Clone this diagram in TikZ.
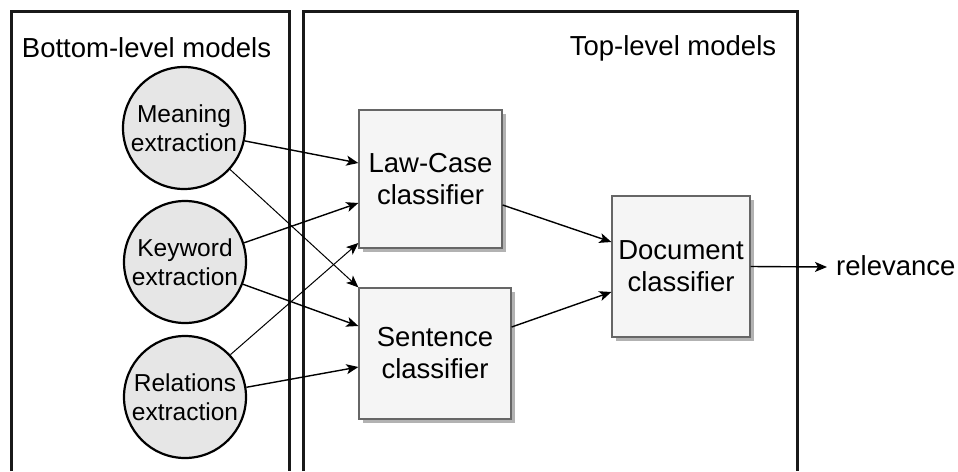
\documentclass[tikz,border=0pt]{standalone}
\usepackage{fontspec}
\setmainfont{Liberation Sans}
\usetikzlibrary{arrows.meta,shadows,calc}
\definecolor{circfill}{HTML}{E6E6E6}
\definecolor{boxfill}{HTML}{F5F5F5}
\definecolor{boxline}{HTML}{666666}
\begin{document}
\begin{tikzpicture}[x=1pt,y=-1pt,
  frame/.style={line width=3pt, draw=black!90},
  model/.style={circle, draw=black, line width=2.2pt, fill=circfill,
    minimum size=122pt, inner sep=0pt, align=center,
    font=\fontsize{24.5}{28.5}\selectfont},
  clf/.style={rectangle, draw=boxline, line width=1.3pt, fill=boxfill,
    inner sep=0pt, align=center, font=\fontsize{27.5}{32}\selectfont,
    drop shadow={shadow xshift=3.5pt, shadow yshift=-3.5pt, fill=black!30, opacity=1}},
  heading/.style={font=\fontsize{27.5}{32}\selectfont, inner sep=0pt},
  link/.style={line width=1.4pt, -{Stealth[length=12pt,width=10pt,inset=3pt]}},
  thin link/.style={link, line width=1pt}
]
\useasboundingbox (0,0) rectangle (958,471);

% open-bottomed group frames
\draw[frame] (11,471) -- (11,11) -- (289,11) -- (289,471);
\draw[frame] (303,471) -- (303,11) -- (797,11) -- (797,471);

\node[heading] (bot) at (146.5,48) {Bottom-level models};
\node[heading] (top) at (673,48) {Top-level models};

% bottom-level extractors
\node[model] (mean) at (184,128) {Meaning\\extraction};
\node[model] (key) at (185,262) {Keyword\\extraction};
\node[model] (rel) at (185,397) {Relations\\extraction};

% top-level classifiers
\node[clf, minimum width=143pt, minimum height=138pt] (lc) at (430.5,179) {Law-Case\\classifier};
\node[clf, minimum width=152pt, minimum height=131pt] (sc) at (435,353.5) {Sentence\\classifier};
\node[clf, minimum width=138pt, minimum height=141pt] (doc) at (681,266.5) {Document\\classifier};

\node[heading, anchor=west] (out) at (836,266) {relevance};

% connections
\draw[link] (mean.-12) -- ([yshift=16pt]lc.west);
\draw[thin link] (mean.-42) -- (sc.north west);
\draw[link] (key.18) -- ([yshift=-24pt]lc.west);
\draw[link] (key.-21) -- ([yshift=27.5pt]sc.west);
\draw[thin link] (rel.43) -- ([yshift=-64pt]lc.west);
\draw[link] (rel.9) -- ([yshift=-13.5pt]sc.west);
\draw[link] ([yshift=-26pt]lc.east) -- ([yshift=24.5pt]doc.west);
\draw[link] ([yshift=26.5pt]sc.east) -- ([yshift=-25.5pt]doc.west);
\draw[link] (doc.east) -- ([xshift=-9pt,yshift=-1pt]out.west);
\end{tikzpicture}
\end{document}
